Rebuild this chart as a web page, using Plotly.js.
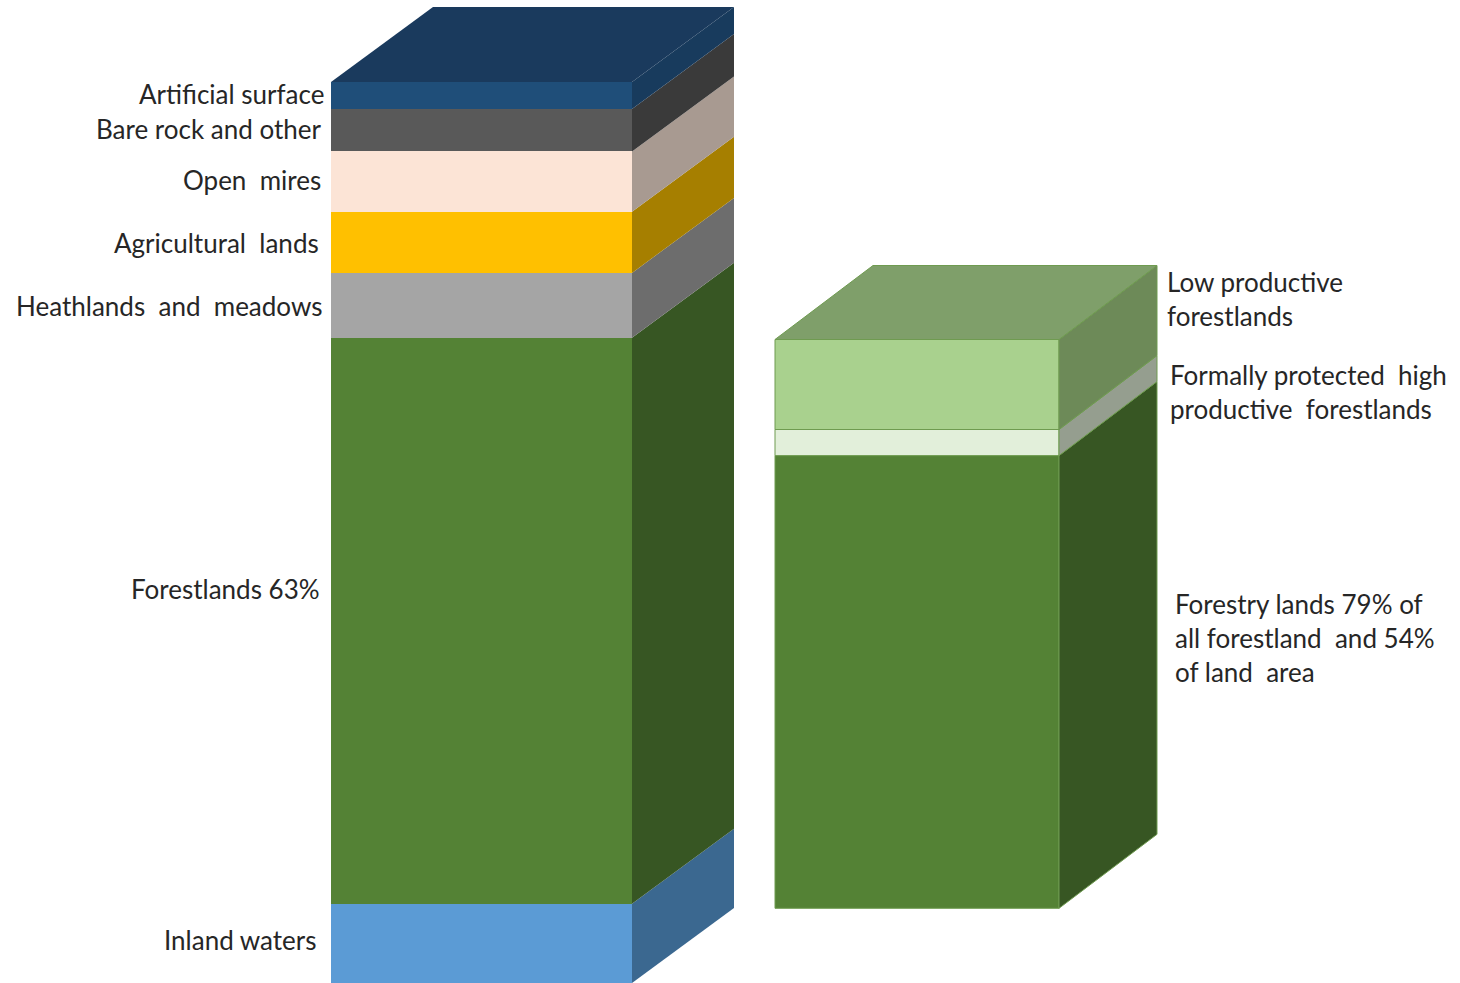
<!DOCTYPE html>
<html>
<head>
<meta charset="utf-8">
<script src="https://cdn.plot.ly/plotly-3.0.1.min.js"></script>
<style>
  html, body { margin: 0; padding: 0; background: #ffffff; }
  #chart { width: 1460px; height: 983px; }
</style>
</head>
<body>
<div id="chart"></div>
<script>
// ---------------- DATA ----------------
// Left column: land use, share of total area (%), bottom to top
const leftCategories = ['Inland waters', 'Forestlands 63%', 'Heathlands  and  meadows', 'Agricultural  lands', 'Open  mires', 'Bare rock and other', 'Artificial surface'];
const leftValues = [8.8, 62.9, 7.2, 6.8, 6.7, 4.7, 3.0];

// Right column: breakdown of forestland (% of total area), bottom to top
const rightCategories = ['Forestry lands 79% of<br>all forestland  and 54%<br>of land  area', 'Formally protected  high<br>productive  forestlands', 'Low productive<br>forestlands'];
const rightValues = [50.3, 2.9, 10.0];

// ---------------- STYLE / LAYOUT ----------------
const PX_PER_UNIT = 9;          // vertical pixels per percentage point
const H = 983, W = 1460;
const yTop = H / PX_PER_UNIT;
const py = p => (H - p) / PX_PER_UNIT;   // pixel row -> y units (for text placement)

const leftFront = ['#5b9bd5', '#548235', '#a5a5a5', '#ffc000', '#fce4d6', '#595959', '#1f4e79'];
const leftSide  = ['#3b6890', '#375623', '#6d6d6d', '#a67f00', '#a89a91', '#3a3a3a', '#183b5d'];
const leftTop = '#1a3a5d';
const rightFront = ['#548235', '#e2efda', '#a9d18e'];
const rightSide  = ['#375623', '#959e8f', '#6d8a58'];
const rightTop = '#7f9f6a';

const bars = [
  { vals: leftValues, x0: 331, x1: 632, base: 0, dx: 102, dy: 75 / PX_PER_UNIT,
    front: leftFront, side: leftSide, top: leftTop, line: null },
  { vals: rightValues, x0: 775, x1: 1059, base: 8.3, dx: 98, dy: 74 / PX_PER_UNIT,
    front: rightFront, side: rightSide, top: rightTop, line: '#6f9b50' }
];

const traces = [];
bars.forEach(b => {
  let cum = b.base;
  const lw = b.line ? 1 : 0;
  const lc = b.line || 'rgba(0,0,0,0)';
  b.vals.forEach((v, i) => {
    // front face
    traces.push({
      type: 'bar', x: [(b.x0 + b.x1) / 2], y: [v], base: [cum], width: [b.x1 - b.x0],
      marker: { color: b.front[i], line: { color: lc, width: lw } },
      hoverinfo: 'skip', showlegend: false
    });
    // side face
    traces.push({
      type: 'scatter', mode: 'lines', fill: 'toself', fillcolor: b.side[i],
      x: [b.x1, b.x1 + b.dx, b.x1 + b.dx, b.x1, b.x1],
      y: [cum, cum + b.dy, cum + v + b.dy, cum + v, cum],
      line: { color: lc, width: lw }, hoverinfo: 'skip', showlegend: false
    });
    cum += v;
  });
  // top face
  traces.push({
    type: 'scatter', mode: 'lines', fill: 'toself', fillcolor: b.top,
    x: [b.x0, b.x0 + b.dx, b.x1 + b.dx, b.x1, b.x0],
    y: [cum, cum + b.dy, cum + b.dy, cum, cum],
    line: { color: lc, width: lw }, hoverinfo: 'skip', showlegend: false
  });
});

const font = { family: 'Lato, "Open Sans", sans-serif', size: 26, color: '#262626' };
// left labels: right-aligned, pixel rows of their centres
const leftLabelRows = [940, 589, 306, 243, 180, 129, 94];
const leftLabelRight = [319, 322, 324, 321, 323, 324, 326];
const annotations = [];
leftCategories.forEach((t, i) => {
  annotations.push({
    text: t, x: leftLabelRight[i], y: py(leftLabelRows[i]), xref: 'x', yref: 'y',
    xanchor: 'right', yanchor: 'middle', showarrow: false, font: font, align: 'right'
  });
});
const rightLabelRows = [638, 392, 299];
const rightLabelLeft = [1173, 1168, 1165];
rightCategories.forEach((t, i) => {
  annotations.push({
    text: t, x: rightLabelLeft[i], y: py(rightLabelRows[i]), xref: 'x', yref: 'y',
    xanchor: 'left', yanchor: 'middle', showarrow: false, font: font, align: 'left'
  });
});

const layout = {
  width: W, height: H,
  margin: { l: 0, r: 0, t: 0, b: 0, pad: 0 },
  paper_bgcolor: '#ffffff', plot_bgcolor: '#ffffff',
  barmode: 'overlay', bargap: 0,
  showlegend: false, hovermode: false,
  xaxis: { range: [0, W], visible: false, fixedrange: true },
  yaxis: { range: [0, yTop], visible: false, fixedrange: true },
  annotations: annotations
};

Plotly.newPlot('chart', traces, layout, { displayModeBar: false, staticPlot: true });
</script>
</body>
</html>
